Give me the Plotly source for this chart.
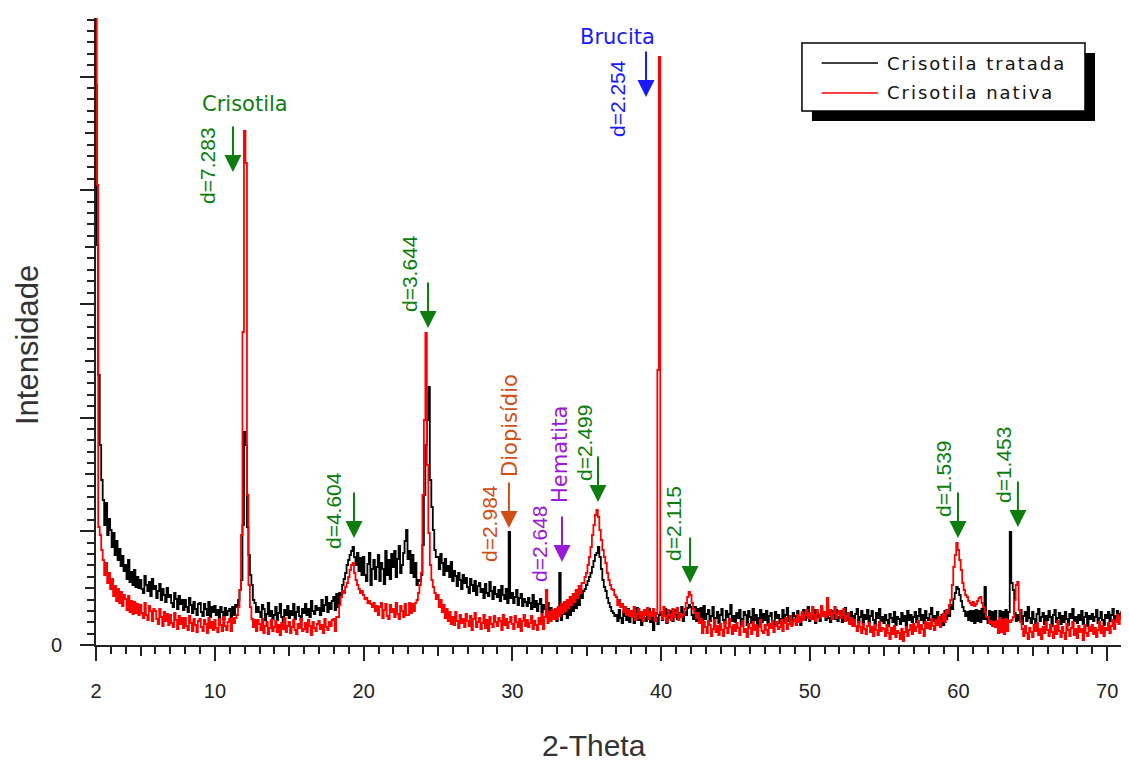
import plotly.graph_objects as go

# ---------------- data ----------------
# 2-theta sampling grid, 2.0 .. 71.5 deg in 0.1 deg steps
two_theta = [round(2.0 + 0.1 * i, 1) for i in range(696)]

# Crisotila tratada (black), one row per degree (n.0 .. n.9)
tratada = [
    5600, 4000, 2700, 2000, 1650, 1450, 1200, 1420, 1100, 1260,   # 2
    1150, 980, 1120, 900, 1040, 850, 960, 790, 890, 740,          # 3
    800, 660, 850, 630, 730, 600, 750, 580, 680, 570,             # 4
    650, 560, 520, 690, 600, 540, 630, 490, 660, 560,             # 5
    590, 470, 540, 610, 450, 560, 500, 430, 570, 480,             # 6
    500, 420, 380, 520, 460, 360, 490, 410, 450, 350,             # 7
    450, 380, 330, 470, 400, 320, 430, 360, 300, 410,             # 8
    420, 330, 290, 410, 360, 300, 430, 280, 380, 330,             # 9
    390, 300, 350, 270, 380, 330, 260, 370, 300, 340,             # 10
    360, 270, 380, 300, 400, 380, 450, 550, 650, 1200,            # 11
    2130, 2000, 1180, 900, 700, 600, 450, 420, 330, 380,          # 12
    330, 280, 400, 360, 250, 310, 420, 290, 340, 260,             # 13
    300, 380, 250, 320, 410, 280, 240, 350, 300, 390,             # 14
    270, 340, 300, 410, 260, 330, 380, 290, 250, 360,             # 15
    320, 410, 300, 360, 280, 440, 340, 310, 390, 350,             # 16
    370, 300, 450, 340, 400, 480, 330, 420, 360, 440,             # 17
    480, 350, 510, 380, 520, 480, 600, 660, 720, 800,             # 18
    850, 900, 940, 980, 880, 800, 920, 740, 870, 700,             # 19
    880, 700, 640, 810, 920, 600, 760, 850, 660, 780,             # 20
    900, 640, 820, 760, 610, 940, 700, 850, 660, 910,             # 21
    780, 940, 680, 860, 990, 720, 800, 920, 1040, 1150,           # 22
    860, 940, 720, 900, 680, 820, 600, 650, 640, 700,             # 23
    1000, 1500, 2000, 2250, 2580, 1650, 1380, 1150, 950, 880,     # 24
    880, 760, 910, 820, 700, 860, 740, 790, 680, 830,             # 25
    640, 740, 690, 590, 720, 650, 560, 700, 620, 670,             # 26
    580, 520, 660, 600, 540, 640, 500, 590, 620, 530,             # 27
    560, 470, 610, 520, 490, 630, 540, 460, 580, 510,             # 28
    480, 550, 440, 590, 500, 460, 560, 420, 1130, 470,            # 29
    520, 420, 480, 550, 400, 470, 510, 390, 460, 430,             # 30
    390, 470, 420, 360, 500, 380, 440, 340, 410, 460,             # 31
    330, 400, 360, 290, 420, 310, 370, 280, 340, 300,             # 32
    240, 380, 720, 250, 350, 310, 390, 270, 380, 300,             # 33
    430, 340, 450, 370, 480, 400, 500, 470, 540, 560,             # 34
    600, 640, 680, 720, 780, 840, 900, 920, 980, 880,             # 35
    760, 650, 580, 540, 470, 420, 380, 340, 320, 290,             # 36
    300, 240, 350, 270, 220, 330, 290, 250, 360, 230,             # 37
    280, 340, 220, 300, 370, 250, 310, 200, 330, 270,             # 38
    240, 310, 360, 230, 290, 150, 320, 270, 210, 300,             # 39
    330, 250, 290, 360, 220, 310, 270, 340, 240, 300,             # 40
    350, 260, 320, 280, 380, 240, 330, 300, 370, 400,             # 41
    380, 300, 260, 380, 240, 360, 250, 370, 230, 390,             # 42
    260, 310, 350, 240, 290, 380, 230, 270, 330, 220,             # 43
    300, 360, 250, 220, 340, 280, 310, 400, 240, 290,             # 44
    230, 320, 270, 350, 210, 260, 330, 300, 200, 340,             # 45
    280, 220, 360, 250, 300, 190, 270, 350, 230, 310,             # 46
    250, 340, 200, 290, 320, 240, 210, 330, 270, 300,             # 47
    220, 260, 350, 230, 300, 370, 240, 280, 210, 320,             # 48
    290, 230, 340, 260, 200, 310, 350, 250, 300, 380,             # 49
    240, 300, 260, 350, 220, 330, 280, 240, 360, 290,             # 50
    310, 250, 390, 270, 230, 340, 300, 260, 350, 240,             # 51
    280, 340, 230, 300, 370, 250, 310, 220, 330, 290,             # 52
    250, 310, 360, 230, 280, 340, 220, 300, 260, 350,             # 53
    230, 290, 340, 250, 210, 320, 270, 360, 240, 280,             # 54
    220, 300, 250, 190, 310, 270, 230, 330, 200, 280,             # 55
    260, 210, 320, 240, 290, 200, 340, 250, 300, 230,             # 56
    280, 330, 230, 290, 360, 250, 300, 220, 340, 270,             # 57
    250, 310, 370, 240, 290, 220, 330, 280, 240, 300,             # 58
    200, 340, 260, 340, 290, 400, 360, 460, 520, 580,             # 59
    560, 500, 440, 380, 340, 290, 330, 250, 340, 240,             # 60
    340, 220, 350, 240, 340, 230, 360, 260, 580, 260,             # 61
    220, 340, 210, 330, 220, 340, 240, 200, 340, 220,             # 62
    330, 210, 350, 230, 330, 1130, 620, 550, 320, 240,            # 63
    300, 250, 350, 210, 290, 330, 240, 380, 270, 220,             # 64
    330, 260, 200, 310, 360, 240, 280, 320, 210, 290,             # 65
    250, 340, 280, 190, 300, 350, 230, 270, 320, 210,             # 66
    290, 230, 330, 260, 200, 310, 270, 360, 240, 280,             # 67
    220, 300, 250, 340, 210, 280, 320, 190, 290, 260,             # 68
    310, 240, 280, 350, 220, 270, 330, 250, 200, 300,             # 69
    270, 330, 240, 300, 360, 230, 290, 340, 260, 310,             # 70
    330, 280, 360, 250, 320, 290,                                 # 71.0-71.5
]

# Crisotila nativa (red)
nativa = [
    6400, 4600, 1180, 1100, 950, 850, 700, 820, 620, 720,         # 2
    560, 660, 490, 590, 440, 560, 420, 530, 390, 500,             # 3
    460, 350, 490, 330, 440, 310, 430, 320, 410, 300,             # 4
    400, 320, 270, 420, 300, 250, 390, 340, 240, 360,             # 5
    340, 260, 210, 360, 280, 190, 330, 240, 310, 200,             # 6
    300, 220, 180, 320, 250, 160, 290, 210, 270, 170,             # 7
    270, 190, 150, 290, 220, 140, 260, 200, 130, 240,             # 8
    260, 180, 140, 250, 210, 120, 270, 170, 230, 150,             # 9
    250, 170, 130, 260, 200, 140, 280, 190, 150, 230,             # 10
    260, 140, 270, 220, 270, 300, 380, 550, 1100, 3130,           # 11
    5140, 4820, 1500, 600, 380, 260, 180, 250, 140, 250,          # 12
    210, 150, 260, 120, 190, 230, 110, 170, 250, 140,             # 13
    180, 240, 130, 200, 100, 220, 160, 270, 130, 190,             # 14
    230, 120, 180, 250, 150, 110, 210, 170, 260, 140,             # 15
    160, 220, 130, 250, 190, 100, 230, 170, 140, 210,             # 16
    240, 160, 200, 120, 260, 180, 150, 230, 190, 250,             # 17
    260, 140, 280, 280, 400, 480, 540, 520, 580, 620,             # 18
    680, 750, 800, 820, 720, 650, 600, 560, 520, 540,             # 19
    500, 460, 470, 420, 440, 410, 380, 420, 340, 390,             # 20
    300, 380, 420, 270, 350, 410, 290, 260, 400, 330,             # 21
    360, 280, 420, 310, 260, 390, 340, 280, 410, 300,             # 22
    300, 420, 320, 410, 340, 420, 450, 520, 600, 720,             # 23
    1500, 2250, 3120, 1800, 1120, 800, 650, 580, 520, 460,        # 24
    500, 380, 450, 330, 400, 270, 360, 240, 330, 210,             # 25
    280, 200, 330, 240, 170, 300, 220, 260, 180, 310,             # 26
    240, 190, 290, 150, 260, 320, 180, 230, 270, 160,             # 27
    220, 300, 170, 250, 140, 280, 210, 180, 290, 230,             # 28
    190, 270, 240, 150, 300, 200, 260, 170, 230, 280,             # 29
    210, 160, 290, 230, 180, 260, 140, 240, 300, 190,             # 30
    250, 180, 220, 290, 160, 240, 200, 150, 270, 210,             # 31
    310, 160, 280, 550, 220, 330, 240, 350, 260, 360,             # 32
    260, 380, 290, 410, 320, 430, 340, 450, 370, 480,             # 33
    400, 510, 430, 550, 470, 590, 520, 620, 620, 680,             # 34
    720, 800, 880, 980, 1100, 1200, 1300, 1350, 1280, 1150,       # 35
    1050, 950, 880, 820, 720, 650, 600, 560, 550, 500,            # 36
    480, 400, 450, 380, 410, 330, 380, 300, 350, 290,             # 37
    340, 280, 380, 250, 310, 360, 270, 330, 240, 350,             # 38
    300, 370, 260, 330, 290, 360, 240, 310, 2750, 5880,           # 39
    330, 260, 380, 290, 230, 350, 300, 250, 360, 280,             # 40
    320, 370, 250, 310, 280, 300, 360, 420, 480, 530,             # 41
    500, 420, 360, 320, 270, 320, 220, 260, 120, 230,             # 42
    180, 120, 240, 200, 90, 160, 250, 130, 190, 100,              # 43
    210, 150, 90, 230, 170, 120, 260, 180, 110, 200,              # 44
    140, 220, 170, 100, 190, 240, 130, 160, 80, 210,              # 45
    170, 110, 230, 150, 200, 90, 180, 250, 140, 120,              # 46
    200, 150, 100, 210, 170, 240, 130, 190, 230, 160,             # 47
    180, 250, 140, 220, 270, 160, 210, 290, 190, 240,             # 48
    260, 200, 300, 230, 280, 330, 250, 300, 350, 270,             # 49
    320, 260, 380, 300, 240, 350, 310, 270, 390, 290,             # 50
    330, 280, 470, 300, 350, 260, 320, 380, 270, 310,             # 51
    340, 270, 300, 360, 240, 290, 320, 210, 270, 190,             # 52
    250, 190, 140, 230, 180, 120, 210, 160, 110, 190,             # 53
    220, 130, 180, 90, 200, 150, 100, 230, 140, 170,              # 54
    160, 90, 200, 120, 60, 170, 110, 190, 80, 140,                # 55
    120, 60, 160, 40, 130, 180, 90, 150, 200, 110,                # 56
    210, 140, 180, 240, 120, 200, 160, 90, 230, 170,              # 57
    220, 160, 260, 190, 150, 250, 200, 280, 180, 240,             # 58
    310, 230, 350, 320, 400, 450, 600, 780, 900, 1020,            # 59
    950, 850, 750, 620, 550, 500, 480, 440, 420, 400,             # 60
    430, 390, 410, 440, 470, 480, 420, 380, 330, 280,             # 61
    280, 220, 240, 190, 230, 180, 240, 120, 270, 130,             # 62
    250, 110, 260, 140, 240, 230, 250, 280, 450, 600,             # 63
    630, 350, 230, 160, 90, 190, 120, 60, 170, 130,               # 64
    80, 200, 140, 220, 100, 160, 60, 180, 120, 230,               # 65
    150, 90, 200, 130, 70, 190, 110, 240, 140, 80,                # 66
    180, 120, 60, 210, 150, 90, 170, 230, 100, 160,               # 67
    70, 190, 130, 160, 50, 200, 120, 90, 180, 140,                # 68
    200, 110, 170, 80, 150, 230, 120, 190, 90, 170,               # 69
    150, 220, 120, 190, 250, 160, 230, 300, 210, 280,             # 70
    320, 250, 360, 290, 330, 270,                                 # 71.0-71.5
]

series_names = ["Crisotila tratada", "Crisotila nativa"]
series_colors = ["#000000", "#ff0000"]
x_tick_values = [2, 10, 20, 30, 40, 50, 60, 70]
x_tick_labels = ["2", "10", "20", "30", "40", "50", "60", "70"]

# peak markers: (2-theta, intensity at arrow tip, colour key)
peak_arrows = [
    (11.21, 4730, "green"), (24.33, 3170, "green"), (19.35, 1070, "green"),
    (29.77, 1170, "orange"), (33.34, 830, "purple"), (35.76, 1430, "green"),
    (38.99, 5480, "blue"), (41.95, 620, "green"), (59.97, 1070, "green"),
    (64.00, 1180, "green"),
]
d_labels = [
    ("d=7.283", 9.46, 4800, "green"), ("d=3.644", 23.05, 3710, "green"),
    ("d=4.604", 17.94, 1340, "green"), ("d=2.984", 28.43, 1210, "orange"),
    ("d=2.648", 31.79, 1020, "purple"), ("d=2.499", 34.82, 2020, "green"),
    ("d=2.254", 37.04, 5460, "blue"), ("d=2.115", 40.80, 1220, "green"),
    ("d=1.539", 58.96, 1670, "green"), ("d=1.453", 63.00, 1800, "green"),
]
phase_labels_vertical = [
    ("Diopisídio", 29.84, 2200, "orange"), ("Hematita", 33.20, 1910, "purple"),
]
phase_labels_horizontal = [
    ("Crisotila", 12.02, 5410, "green"), ("Brucita", 37.04, 6080, "blue"),
]

assert len(two_theta) == len(tratada) == len(nativa)

# ---------------- styling ----------------
COL = {"green": "#0d7d0d", "orange": "#cf4f14", "purple": "#9a1ad6", "blue": "#1a1aff"}
AX = "#222222"
X_RANGE = [2, 71.47]
Y_RANGE = [0, 6270]
Y_MAJOR = 1137

fig = go.Figure()
for name, vals, col in zip(series_names, [tratada, nativa], series_colors):
    fig.add_trace(go.Scatter(x=two_theta, y=vals, mode="lines", name=name, showlegend=False,
                             line=dict(color=col, width=1.8, shape="hvh")))
# empty helper trace so the overlay axes (mid-length ticks) are drawn
fig.add_trace(go.Scatter(x=[], y=[], xaxis="x2", yaxis="y2", showlegend=False, hoverinfo="skip"))

tick_font = dict(family="Liberation Sans, Arial", size=20, color=AX)
# the page body has an 8px margin: the figure is sized/margined so the plot area
# lands on the reference pixels (left 96, top 18, bottom 645, right 1129)
fig.update_layout(
    width=1121, height=757,
    margin=dict(l=88, r=0, t=10, b=120),
    paper_bgcolor="white", plot_bgcolor="white",
    showlegend=False,
    xaxis=dict(range=X_RANGE, tickmode="array", tickvals=x_tick_values, ticktext=x_tick_labels,
               ticks="outside", ticklen=14, tickwidth=2, tickcolor=AX, automargin=False,
               showline=True, linecolor=AX, linewidth=2, showgrid=False, zeroline=False,
               tickfont=tick_font, ticklabelstandoff=13,
               minor=dict(tickmode="linear", tick0=2, dtick=1, ticks="outside", ticklen=7,
                          tickwidth=2, tickcolor=AX, showgrid=False)),
    yaxis=dict(range=Y_RANGE, tickmode="array",
               tickvals=[Y_MAJOR * k for k in range(6)], ticktext=["0", "", "", "", "", ""],
               ticks="outside", ticklen=14, tickwidth=2, tickcolor=AX, automargin=False,
               showline=True, linecolor=AX, linewidth=2, showgrid=False, zeroline=False,
               tickfont=tick_font, ticklabelstandoff=14,
               minor=dict(tickmode="linear", tick0=0, dtick=Y_MAJOR / 10, ticks="outside",
                          ticklen=7, tickwidth=2, tickcolor=AX, showgrid=False)),
    xaxis2=dict(overlaying="x", range=X_RANGE, tickmode="array", automargin=False,
                tickvals=[5, 15, 25, 35, 45, 55, 65], ticks="outside", ticklen=10, tickwidth=2,
                tickcolor=AX, showticklabels=False, showline=False, showgrid=False, zeroline=False),
    yaxis2=dict(overlaying="y", range=Y_RANGE, tickmode="array", automargin=False,
                tickvals=[Y_MAJOR * (k + 0.5) for k in range(5)], ticks="outside", ticklen=10,
                tickwidth=2, tickcolor=AX, showticklabels=False, showline=False,
                showgrid=False, zeroline=False),
)

# legend box (drawn by hand: shadow, white framed box, line samples, labels)
LEG = dict(x0=0.6834, x1=0.9574, y0=0.8517, y1=0.9601)
fig.add_shape(type="rect", xref="paper", yref="paper", x0=0.6931, x1=0.9671, y0=0.8357, y1=0.9442,
              fillcolor="black", line=dict(width=0), layer="above")
fig.add_shape(type="rect", xref="paper", yref="paper", **LEG,
              fillcolor="white", line=dict(color="black", width=1.5), layer="above")
legend_rows_y = [0.9282, 0.8804]

annotations = []
for name, col, ly in zip(series_names, series_colors, legend_rows_y):
    fig.add_shape(type="line", xref="paper", yref="paper", x0=0.7025, x1=0.7570, y0=ly, y1=ly,
                  line=dict(color=col, width=1.5), layer="above")
    annotations.append(dict(x=0.7638, y=ly, xref="paper", yref="paper", xanchor="left",
                            yanchor="middle", showarrow=False,
                            text=f'<span style="letter-spacing:2px">{name}</span>',
                            font=dict(family="DejaVu Sans", size=18, color="#111")))

for x, y, c in peak_arrows:
    annotations.append(dict(x=x, y=y, xref="x", yref="y", text="", showarrow=True,
                            ax=0, ay=-47, arrowhead=2, arrowsize=1.7, arrowwidth=2,
                            arrowcolor=COL[c], standoff=0))
for t, x, y, c in d_labels:
    annotations.append(dict(x=x, y=y, xref="x", yref="y", text=t, showarrow=False, textangle=-90,
                            xanchor="center", yanchor="middle",
                            font=dict(family="Liberation Sans, Arial", size=21, color=COL[c])))
for t, x, y, c in phase_labels_vertical:
    annotations.append(dict(x=x, y=y, xref="x", yref="y", text=t, showarrow=False, textangle=-90,
                            xanchor="center", yanchor="middle",
                            font=dict(family="DejaVu Sans", size=21, color=COL[c])))
for t, x, y, c in phase_labels_horizontal:
    annotations.append(dict(x=x, y=y, xref="x", yref="y", text=t, showarrow=False,
                            xanchor="center", yanchor="middle",
                            font=dict(family="DejaVu Sans", size=21, color=COL[c])))
# axis titles
annotations.append(dict(x=0.482, y=-0.1595, xref="paper", yref="paper", text="2-Theta",
                        showarrow=False, xanchor="center", yanchor="middle",
                        font=dict(family="Liberation Sans, Arial", size=30, color="#333")))
annotations.append(dict(x=-0.0658, y=0.4785, xref="paper", yref="paper", text="Intensidade",
                        showarrow=False, textangle=-90, xanchor="center", yanchor="middle",
                        font=dict(family="Liberation Sans, Arial", size=31, color="#333")))
fig.update_layout(annotations=annotations)

fig.write_html("out.html")
